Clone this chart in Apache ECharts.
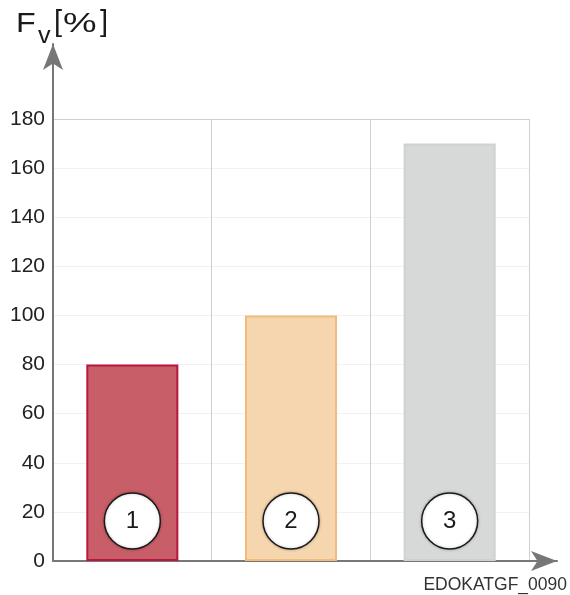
<!DOCTYPE html>
<html><head><meta charset="utf-8">
<script src="https://cdn.jsdelivr.net/npm/echarts@6/dist/echarts.min.js"></script>
<style>html,body{margin:0;padding:0;background:#fff}#c{width:570px;height:595px}</style>
</head><body><div id="c"></div>
<script>
var categories = ['1', '2', '3'];
var values = [80, 100, 170];
var markerLevel = [16.3, 16.3, 16.3];
var fillColors = ['#c85e68', '#f6d6ae', '#d7d9d8'];
var borderColors = ['#b8163e', '#f1bb78', '#cfd1d0'];
var yTicks = [0, 20, 40, 60, 80, 100, 120, 140, 160, 180];
var imageId = 'EDOKATGF_0090';

var chart = echarts.init(document.getElementById('c'), null, {renderer: 'canvas'});
var font = '"Liberation Sans", Arial, Helvetica, sans-serif';
var splitColors = yTicks.map(function (t, i) { return i === yTicks.length - 1 ? '#cfcfcf' : '#f1f1f1'; });
function t(txt, left, top, size, sx) {
  return {type: 'text', left: left, top: top, scaleX: sx || 1,
          style: {text: txt, fontSize: size, fill: '#1a1a1a', fontFamily: font}};
}

chart.setOption({
  animation: false,
  textStyle: {fontFamily: font},
  graphic: [
    t('F', 16, 10, 28, 1.15),
    t('v', 38, 24, 24, 1.05),
    t('[', 54, 8, 29, 1),
    t('%', 63, 10, 28, 1.35),
    t(']', 100, 8, 29, 1),
    {
      type: 'text', right: 3, bottom: 1,
      style: {text: imageId, fontSize: 17.5, fill: '#333', fontFamily: font}
    }
  ],
  grid: [
    {left: 53, right: 41, top: 119, bottom: 34},
    {left: 53, right: 13, top: 44, bottom: 34}
  ],
  xAxis: [{
    type: 'category', gridIndex: 0, data: categories,
    axisLine: {show: false}, axisTick: {show: false}, axisLabel: {show: false},
    splitLine: {show: true, lineStyle: {color: '#cfcfcf', width: 1}}
  }, {
    type: 'value', gridIndex: 1, min: 0, max: 1,
    axisLine: {show: true, symbol: ['none', 'arrow'], symbolSize: [15, 26], lineStyle: {color: '#777', width: 2}},
    axisTick: {show: false}, axisLabel: {show: false}, splitLine: {show: false}
  }],
  yAxis: [{
    type: 'value', gridIndex: 0, min: 0, max: 180, interval: 20,
    axisLine: {show: false}, axisTick: {show: false},
    axisLabel: {fontSize: 21, color: '#222', margin: 8, fontFamily: font},
    splitLine: {show: true, lineStyle: {color: splitColors, width: 1}}
  }, {
    type: 'value', gridIndex: 1, min: 0, max: 1,
    axisLine: {show: true, symbol: ['none', 'arrow'], symbolSize: [15, 26], lineStyle: {color: '#777', width: 2}},
    axisTick: {show: false}, axisLabel: {show: false}, splitLine: {show: false}
  }],
  series: [{
    type: 'bar', xAxisIndex: 0, yAxisIndex: 0, barWidth: '58%',
    data: values.map(function (v, i) {
      return {value: v, itemStyle: {color: fillColors[i], borderColor: borderColors[i], borderWidth: 2}};
    }),
    z: 2
  }, {
    type: 'scatter', xAxisIndex: 0, yAxisIndex: 0,
    symbol: 'circle', symbolSize: 56,
    data: markerLevel.map(function (v, i) { return {value: [categories[i], v]}; }),
    itemStyle: {color: '#fff', borderColor: '#1a1a1a', borderWidth: 1.5, opacity: 1,
                shadowColor: 'rgba(0,0,0,0.25)', shadowBlur: 3},
    label: {show: true, position: 'inside', formatter: function (p) { return p.value[0]; },
            fontSize: 24, color: '#1a1a1a', fontFamily: font},
    z: 5
  }]
});
</script>
</body></html>
